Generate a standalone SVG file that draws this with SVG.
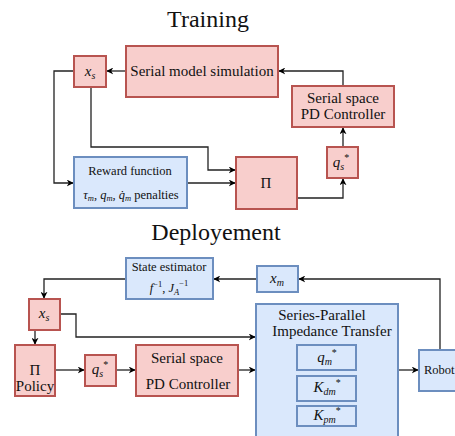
<svg xmlns="http://www.w3.org/2000/svg" width="455" height="436" viewBox="0 0 455 436" font-family="'Liberation Serif', 'DejaVu Serif', serif">
<defs>
<marker id="ah" viewBox="0 0 10 10" refX="9" refY="5" markerWidth="7" markerHeight="7" orient="auto" markerUnits="userSpaceOnUse">
<path d="M0,0 L10,5 L0,10 L3,5 Z" fill="#000"/>
</marker>
</defs>
<style>
.red{fill:#f8cecc;stroke:#b85450;stroke-width:2}
.blue{fill:#dae8fc;stroke:#6c8ebf;stroke-width:2}
text{font-family:'Liberation Serif','DejaVu Serif',serif;fill:#111}
.t{font-size:15px}
.s{font-size:12.5px}
.m{font-style:italic}
.title{font-size:24px}
.c{fill:none;stroke:#222;stroke-width:1.3;marker-end:url(#ah)}
</style>
<rect width="455" height="436" fill="#fff"/>
<text class="title" x="208" y="27" text-anchor="middle">Training</text>
<text class="title" x="216" y="240" text-anchor="middle">Deployement</text>

<g id="connectors">
<path class="c" d="M343,86 V71 H279"/>
<path class="c" d="M126,71 H107"/>
<path class="c" d="M74,71 H54 V183 H73"/>
<path class="c" d="M91,87 V147 H208 V170 H235"/>
<path class="c" d="M187,183 H235"/>
<path class="c" d="M297,198 H343 V179"/>
<path class="c" d="M343,147 V128"/>
<path class="c" d="M440,350 V279 H299"/>
<path class="c" d="M257,279 H214"/>
<path class="c" d="M126,279 H44 V298"/>
<path class="c" d="M35,330 V344"/>
<path class="c" d="M60,314 H76 V337 H255"/>
<path class="c" d="M55,370 H84"/>
<path class="c" d="M116,370 H135"/>
<path class="c" d="M238,370 H255"/>
<path class="c" d="M398,370 H418"/>
</g>

<g id="t_xs"><rect class="red" x="74" y="56" width="32" height="31"/>
<text class="t" x="90" y="76" text-anchor="middle"><tspan class="m">x</tspan><tspan class="m" font-size="10" dy="3">s</tspan></text></g>
<g id="t_sim"><rect class="red" x="126" y="46" width="152" height="51"/>
<text class="t" x="202" y="76" text-anchor="middle">Serial model simulation</text></g>
<g id="t_pd"><rect class="red" x="292" y="86" width="102" height="41"/>
<text class="t" x="343" y="103" text-anchor="middle">Serial space</text>
<text class="t" x="343" y="119" text-anchor="middle">PD Controller</text></g>
<g id="t_qs"><rect class="red" x="327" y="147" width="31" height="31"/>
<text class="t" x="341" y="167" text-anchor="middle"><tspan class="m">q</tspan><tspan class="m" font-size="10" dy="3">s</tspan><tspan font-size="10" dy="-9">*</tspan></text></g>
<g id="t_pi"><rect class="red" x="236" y="157" width="61" height="52"/>
<text class="t" x="266" y="188" text-anchor="middle">Π</text></g>
<g id="t_reward"><rect class="blue" x="74" y="157" width="113" height="51"/>
<text class="s" x="130" y="175" text-anchor="middle">Reward function</text>
<text class="s" x="131" y="199" text-anchor="middle"><tspan class="m">τ</tspan><tspan class="m" font-size="8.5" dy="2">m</tspan><tspan dy="-2">, </tspan><tspan class="m">q</tspan><tspan class="m" font-size="8.5" dy="2">m</tspan><tspan dy="-2">, </tspan><tspan class="m">q̇</tspan><tspan class="m" font-size="8.5" dy="2">m</tspan><tspan dy="-2"> penalties</tspan></text></g>

<g id="d_se"><rect class="blue" x="126" y="258" width="87" height="41"/>
<text class="s" x="169" y="271" text-anchor="middle">State estimator</text>
<text class="s" x="169" y="292" text-anchor="middle"><tspan class="m">f</tspan><tspan font-size="8.5" dy="-5">−1</tspan><tspan dy="5">, </tspan><tspan class="m">J</tspan><tspan class="m" font-size="8.5" dy="3">A</tspan><tspan font-size="8.5" dy="-9">−1</tspan></text></g>
<g id="d_xm"><rect class="blue" x="257" y="266" width="41" height="26"/>
<text class="t" x="277" y="283" text-anchor="middle"><tspan class="m">x</tspan><tspan class="m" font-size="10" dy="3">m</tspan></text></g>
<g id="d_xs"><rect class="red" x="29" y="299" width="31" height="31"/>
<text class="t" x="44" y="318" text-anchor="middle"><tspan class="m">x</tspan><tspan class="m" font-size="10" dy="3">s</tspan></text></g>
<g id="d_pi"><rect class="red" x="15" y="345" width="40" height="51"/>
<text class="t" x="35" y="375" text-anchor="middle">Π</text>
<text class="t" x="35" y="391" text-anchor="middle">Policy</text></g>
<g id="d_qs"><rect class="red" x="85" y="355" width="31" height="31"/>
<text class="t" x="100" y="374" text-anchor="middle"><tspan class="m">q</tspan><tspan class="m" font-size="10" dy="3">s</tspan><tspan font-size="10" dy="-9">*</tspan></text></g>
<g id="d_pd"><rect class="red" x="136" y="345" width="102" height="51"/>
<text class="t" x="187" y="363" text-anchor="middle">Serial space</text>
<text class="t" x="188" y="389" text-anchor="middle">PD Controller</text></g>
<g id="d_spit"><rect class="blue" x="256" y="304" width="142" height="140"/>
<text class="t" x="322" y="320" text-anchor="middle">Series-Parallel</text>
<text class="t" x="332" y="336" text-anchor="middle">Impedance Transfer</text>
<rect class="blue" x="297" y="345" width="59" height="25"/>
<text class="t" x="327" y="362" text-anchor="middle"><tspan class="m">q</tspan><tspan class="m" font-size="10" dy="3">m</tspan><tspan font-size="10" dy="-9">*</tspan></text>
<rect class="blue" x="297" y="376" width="59" height="25"/>
<text class="t" x="327" y="392" text-anchor="middle"><tspan class="m">K</tspan><tspan class="m" font-size="10" dy="3">dm</tspan><tspan font-size="10" dy="-9">*</tspan></text>
<rect class="blue" x="297" y="406" width="59" height="20"/>
<text class="t" x="327" y="420" text-anchor="middle"><tspan class="m">K</tspan><tspan class="m" font-size="10" dy="3">pm</tspan><tspan font-size="10" dy="-9">*</tspan></text></g>
<g id="d_robot"><rect class="blue" x="419" y="350" width="50" height="41"/>
<text class="s" x="424" y="374">Robot</text></g>
</svg>
